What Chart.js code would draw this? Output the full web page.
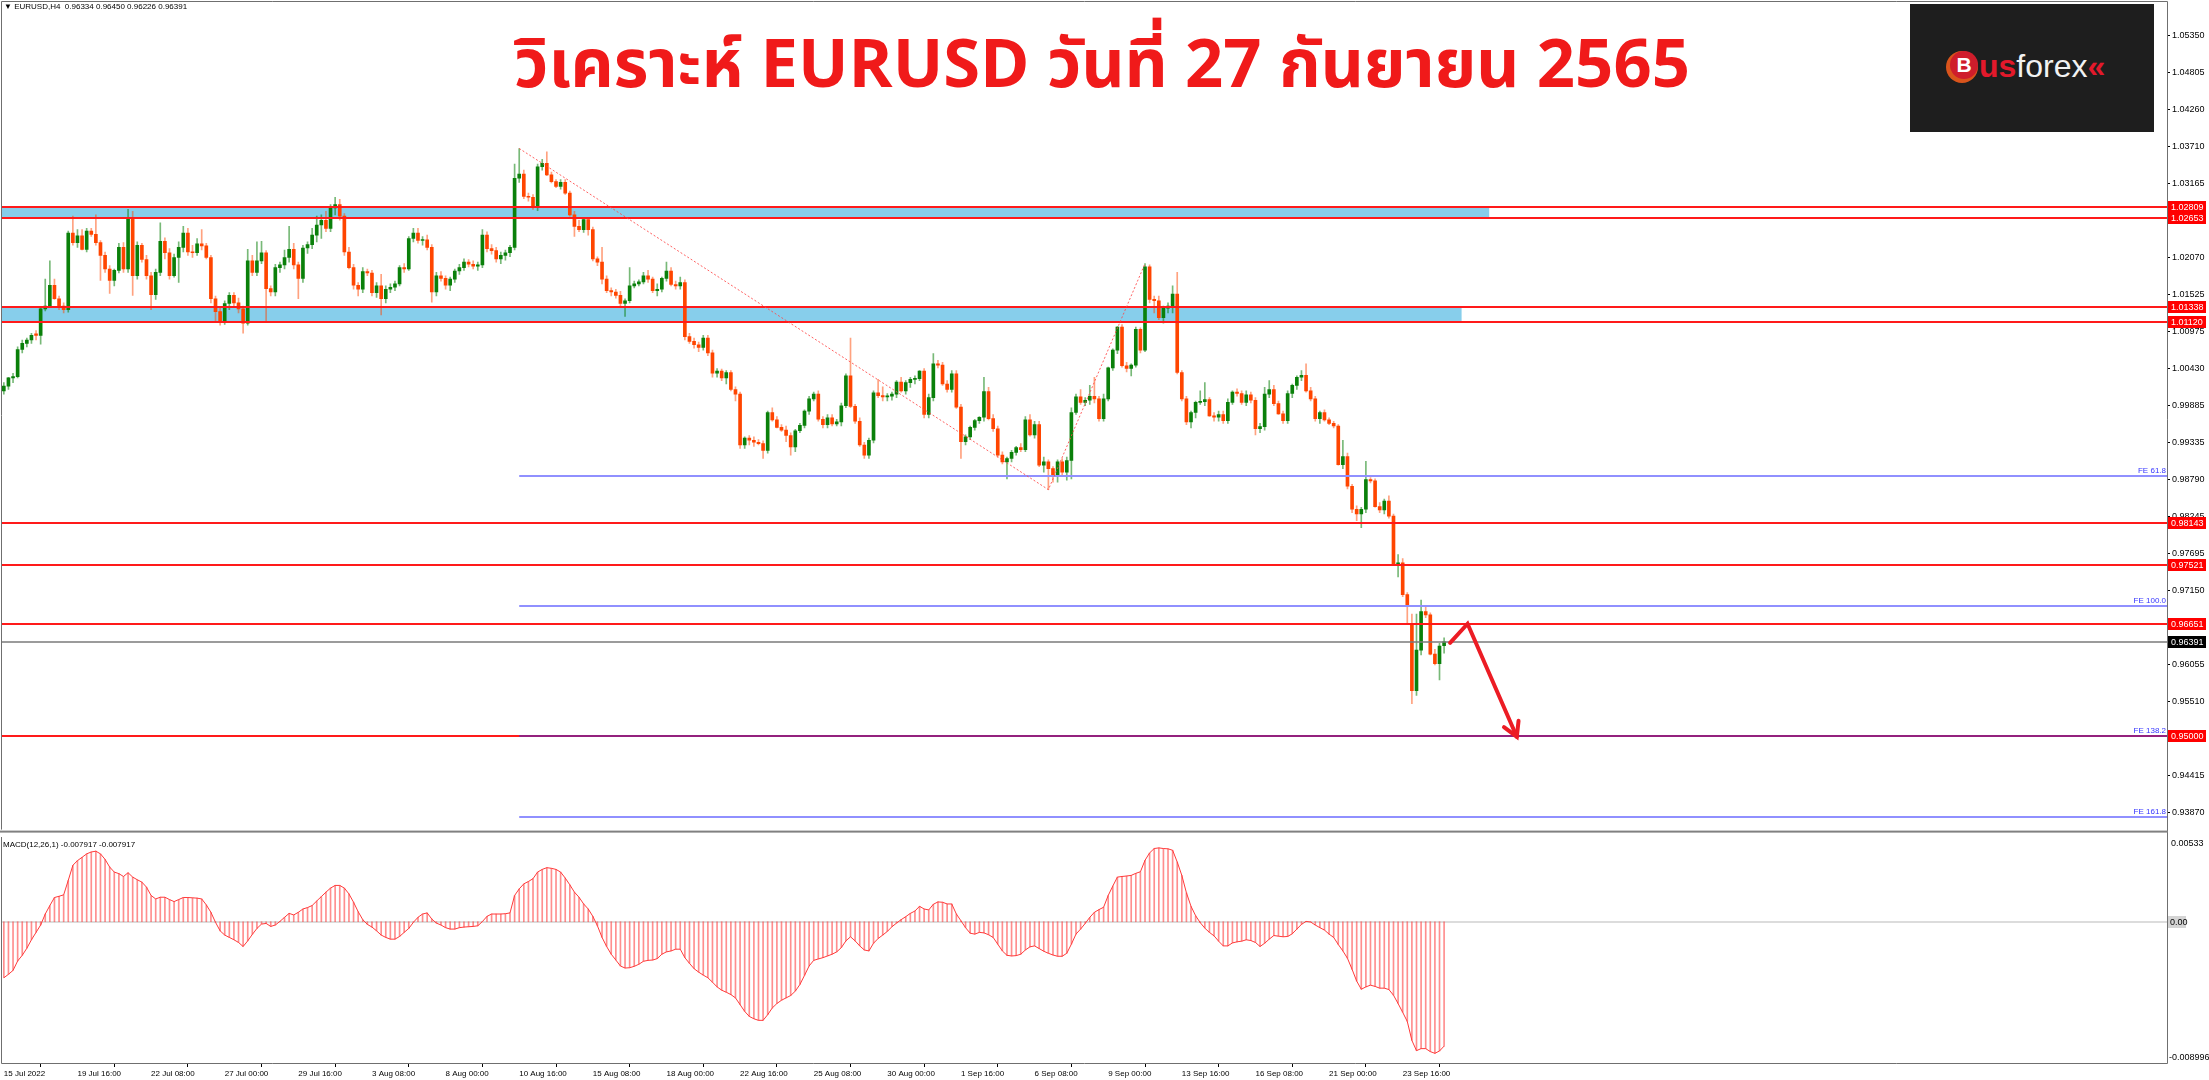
<!DOCTYPE html>
<html>
<head>
<meta charset="utf-8">
<title>EURUSD H4</title>
<script src="https://cdn.jsdelivr.net/npm/chart.js@4.4.1/dist/chart.umd.min.js"></script>
<style>
  html, body { margin: 0; padding: 0; background: #fff; }
  body { width: 2209px; height: 1080px; position: relative; overflow: hidden;
         font-family: 'Liberation Sans', 'DejaVu Sans', sans-serif; }
  canvas { position: absolute; left: 0; }
  #mainChart { top: 0; }
  #macdChart { top: 837px; }
  #header { position: absolute; left: 4px; top: 2px; font-size: 8px; line-height: 10px; color: #000; white-space: pre; }
  #macdLabel { position: absolute; left: 3px; top: 840px; font-size: 8px; line-height: 10px; color: #000; white-space: pre; }
  #title { position: absolute; left: 514px; top: 20px; font-weight: bold; color: #f01a1a; white-space: nowrap;
           font-size: 60px; line-height: 1.2; font-family: 'Noto Sans Thai', 'Tahoma', 'Liberation Sans', 'Noto Sans', sans-serif; }
  #titleBase { display: inline-block; width: 0; height: 0; vertical-align: baseline; }
  #logo { position: absolute; left: 1910px; top: 4px; width: 244px; height: 128px; background: #1e1e1e; }
  #coin { position: absolute; left: 40px; top: 47px; width: 28px; height: 28px; border-radius: 50%; background: #cf1d2b;
          box-shadow: -2px 2px 0 2px #d9541c; color: #fff; font: bold 21px/28px 'Liberation Sans', sans-serif; text-align: center; }
  #brand { position: absolute; left: 69px; top: 46px; font: bold 32px/32px 'Liberation Sans', sans-serif; white-space: nowrap; }
  #brand .r { color: #e3192b; }
  #brand .w { color: #f2f2f2; font-weight: normal; }
</style>
</head>
<body>
<canvas id="mainChart" width="2209" height="837"></canvas>
<canvas id="macdChart" width="2209" height="243"></canvas>
<div id="header">▼ EURUSD,H4  0.96334 0.96450 0.96226 0.96391</div>
<div id="macdLabel">MACD(12,26,1) -0.007917 -0.007917</div>
<div id="title">วิเคราะห์ EURUSD วันที่ 27 กันยายน 2565<span id="titleBase"></span></div>
<div id="logo"><div id="coin">B</div><div id="brand"><span class="r">us</span><span class="w">forex</span><span class="r">«</span></div></div>
<script>
// time axis labels, one every 16 bars (H4)
const dateLabels = ['15 Jul 2022','19 Jul 16:00','22 Jul 08:00','27 Jul 00:00','29 Jul 16:00','3 Aug 08:00',
  '8 Aug 00:00','10 Aug 16:00','15 Aug 08:00','18 Aug 00:00','22 Aug 16:00','25 Aug 08:00','30 Aug 00:00',
  '1 Sep 16:00','6 Sep 08:00','9 Sep 00:00','13 Sep 16:00','16 Sep 08:00','21 Sep 00:00','23 Sep 16:00'];

const opens = [
1.0010,1.0017,1.0029,1.0031,1.0071,1.0080,1.0085,1.0094,1.0092,1.0131,
1.0135,1.0166,1.0146,1.0135,1.0130,1.0243,1.0229,1.0239,1.0219,1.0246,
1.0241,1.0229,1.0210,1.0190,1.0173,1.0188,1.0222,1.0190,1.0265,1.0180,
1.0225,1.0204,1.0180,1.0152,1.0185,1.0231,1.0214,1.0180,1.0207,1.0222,
1.0243,1.0215,1.0214,1.0227,1.0224,1.0207,1.0146,1.0127,1.0112,1.0139,
1.0151,1.0140,1.0131,1.0110,1.0202,1.0185,1.0202,1.0214,1.0161,1.0156,
1.0192,1.0196,1.0207,1.0219,1.0196,1.0176,1.0221,1.0226,1.0240,1.0255,
1.0262,1.0250,1.0280,1.0285,1.0268,1.0215,1.0192,1.0166,1.0160,1.0186,
1.0184,1.0155,1.0165,1.0146,1.0160,1.0163,1.0168,1.0192,1.0190,1.0235,
1.0243,1.0232,1.0233,1.0222,1.0156,1.0180,1.0176,1.0166,1.0175,1.0187,
1.0192,1.0200,1.0197,1.0194,1.0196,1.0240,1.0220,1.0217,1.0205,1.0210,
1.0214,1.0222,1.0324,1.0330,1.0297,1.0296,1.0282,1.0341,1.0346,1.0329,
1.0319,1.0312,1.0318,1.0302,1.0270,1.0253,1.0248,1.0263,1.0248,1.0205,
1.0200,1.0175,1.0158,1.0156,1.0151,1.0139,1.0143,1.0165,1.0168,1.0171,
1.0180,1.0175,1.0158,1.0160,1.0176,1.0187,1.0167,1.0165,1.0170,1.0090,
1.0083,1.0078,1.0074,1.0088,1.0066,1.0036,1.0039,1.0029,1.0037,1.0012,
1.0005,0.9930,0.9940,0.9937,0.9934,0.9932,0.9922,0.9978,0.9967,0.9956,
0.9952,0.9944,0.9927,0.9951,0.9959,0.9980,0.9998,1.0005,0.9968,0.9960,
0.9970,0.9961,0.9964,0.9988,1.0032,0.9987,0.9965,0.9930,0.9915,0.9937,
1.0007,1.0003,1.0001,1.0002,1.0005,1.0023,1.0010,1.0022,1.0027,1.0028,
1.0039,0.9975,1.0000,1.0050,1.0048,1.0020,1.0012,1.0035,0.9986,0.9935,
0.9942,0.9956,0.9966,0.9971,1.0009,0.9969,0.9954,0.9915,0.9905,0.9910,
0.9919,0.9926,0.9923,0.9967,0.9945,0.9960,0.9900,0.9905,0.9895,0.9885,
0.9905,0.9890,0.9907,0.9978,1.0001,0.9993,0.9996,1.0002,0.9998,0.9969,
0.9998,1.0044,1.0070,1.0104,1.0047,1.0043,1.0048,1.0101,1.0070,1.0193,
1.0145,1.0143,1.0118,1.0132,1.0135,1.0153,1.0037,0.9998,0.9964,0.9978,
0.9993,0.9994,0.9997,0.9973,0.9971,0.9975,0.9966,0.9993,1.0008,1.0006,
0.9993,1.0004,0.9996,0.9954,0.9957,1.0005,1.0012,0.9991,0.9976,0.9966,
1.0006,1.0018,1.0030,1.0033,1.0010,0.9998,0.9969,0.9978,0.9967,0.9962,
0.9958,0.9901,0.9913,0.9869,0.9835,0.9828,0.9835,0.9879,0.9877,0.9839,
0.9834,0.9847,0.9825,0.9754,0.9756,0.9709,0.9666,0.9567,0.9627,0.9684,
0.9679,0.9621,0.9607,0.96334];

const highs = [
1.0022,1.0030,1.0036,1.0075,1.0085,1.0088,1.0095,1.0099,1.0134,1.0175,
1.0202,1.0175,1.0150,1.0140,1.0246,1.0268,1.0248,1.0248,1.0250,1.0250,
1.0270,1.0232,1.0215,1.0195,1.0190,1.0228,1.0229,1.0278,1.0275,1.0230,
1.0228,1.0210,1.0185,1.0190,1.0258,1.0236,1.0220,1.0212,1.0230,1.0253,
1.0250,1.0225,1.0235,1.0248,1.0228,1.0210,1.0150,1.0132,1.0143,1.0155,
1.0155,1.0147,1.0135,1.0219,1.0210,1.0230,1.0231,1.0217,1.0165,1.0197,
1.0200,1.0218,1.0253,1.0228,1.0200,1.0225,1.0230,1.0250,1.0268,1.0270,
1.0275,1.0285,1.0296,1.0293,1.0272,1.0222,1.0197,1.0170,1.0192,1.0190,
1.0188,1.0170,1.0182,1.0165,1.0168,1.0172,1.0195,1.0198,1.0238,1.0250,
1.0250,1.0238,1.0240,1.0226,1.0185,1.0186,1.0180,1.0178,1.0190,1.0197,
1.0205,1.0204,1.0202,1.0200,1.0248,1.0245,1.0226,1.0222,1.0215,1.0218,
1.0225,1.0345,1.0368,1.0336,1.0302,1.0300,1.0345,1.0352,1.0363,1.0333,
1.0322,1.0322,1.0322,1.0305,1.0275,1.0262,1.0266,1.0266,1.0252,1.0208,
1.0222,1.0180,1.0162,1.0160,1.0157,1.0146,1.0192,1.0172,1.0174,1.0185,
1.0188,1.0178,1.0168,1.0178,1.0200,1.0192,1.0172,1.0178,1.0174,1.0095,
1.0088,1.0082,1.0092,1.0092,1.0070,1.0043,1.0042,1.0040,1.0040,1.0016,
1.0008,0.9942,0.9944,0.9942,0.9938,0.9936,0.9980,0.9985,0.9972,0.9960,
0.9958,0.9948,0.9953,0.9962,0.9982,1.0002,1.0008,1.0010,0.9972,0.9975,
0.9975,0.9968,0.9992,1.0035,1.0088,0.9990,0.9970,0.9934,0.9940,1.0010,
1.0027,1.0016,1.0006,1.0008,1.0025,1.0030,1.0025,1.0030,1.0032,1.0040,
1.0043,1.0005,1.0065,1.0055,1.0052,1.0025,1.0040,1.0040,0.9990,0.9945,
0.9958,0.9968,0.9972,1.0030,1.0015,0.9975,0.9958,0.9920,0.9912,0.9922,
0.9928,0.9932,0.9972,0.9975,0.9965,0.9965,0.9912,0.9908,0.9898,0.9908,
0.9910,0.9912,0.9985,1.0005,1.0012,1.0000,1.0018,1.0030,1.0002,1.0005,
1.0045,1.0072,1.0105,1.0108,1.0052,1.0050,1.0104,1.0103,1.0198,1.0196,
1.0150,1.0150,1.0135,1.0140,1.0165,1.0185,1.0040,1.0002,0.9980,0.9995,
1.0010,1.0022,1.0000,0.9978,0.9980,0.9980,0.9998,1.0010,1.0013,1.0010,
1.0010,1.0008,1.0000,0.9962,1.0015,1.0025,1.0018,0.9995,0.9980,1.0010,
1.0020,1.0032,1.0040,1.0050,1.0015,1.0002,0.9980,0.9982,0.9970,0.9965,
0.9960,0.9937,0.9918,0.9872,0.9840,0.9838,0.9906,0.9882,0.9880,0.9845,
0.9850,0.9855,0.9828,0.9768,0.9762,0.9712,0.9680,0.9680,0.9701,0.9690,
0.9682,0.9628,0.9637,0.96450];

const lows = [
1.0005,1.0012,1.0022,1.0029,1.0066,1.0075,1.0080,1.0085,1.0079,1.0128,
1.0133,1.0145,1.0130,1.0125,1.0126,1.0225,1.0222,1.0218,1.0215,1.0238,
1.0225,1.0173,1.0185,1.0154,1.0165,1.0184,1.0185,1.0185,1.0151,1.0175,
1.0200,1.0175,1.0130,1.0145,1.0180,1.0205,1.0175,1.0178,1.0170,1.0215,
1.0210,1.0207,1.0210,1.0218,1.0205,1.0140,1.0112,1.0107,1.0108,1.0130,
1.0135,1.0125,1.0095,1.0107,1.0180,1.0180,1.0198,1.0112,1.0150,1.0150,
1.0185,1.0190,1.0200,1.0190,1.0146,1.0170,1.0213,1.0220,1.0230,1.0235,
1.0245,1.0245,1.0270,1.0262,1.0210,1.0190,1.0160,1.0150,1.0155,1.0180,
1.0150,1.0148,1.0122,1.0140,1.0155,1.0158,1.0165,1.0185,1.0188,1.0230,
1.0228,1.0225,1.0218,1.0141,1.0150,1.0172,1.0160,1.0158,1.0170,1.0182,
1.0188,1.0193,1.0190,1.0188,1.0192,1.0215,1.0212,1.0200,1.0198,1.0203,
1.0208,1.0218,1.0318,1.0294,1.0290,1.0278,1.0276,1.0336,1.0328,1.0317,
1.0310,1.0308,1.0300,1.0268,1.0238,1.0245,1.0244,1.0240,1.0202,1.0195,
1.0168,1.0155,1.0150,1.0147,1.0135,1.0120,1.0140,1.0162,1.0165,1.0168,
1.0170,1.0155,1.0150,1.0156,1.0172,1.0165,1.0160,1.0160,1.0085,1.0080,
1.0073,1.0068,1.0070,1.0062,1.0030,1.0030,1.0025,1.0020,1.0010,0.9995,
0.9925,0.9925,0.9930,0.9928,0.9930,0.9910,0.9918,0.9965,0.9955,0.9950,
0.9935,0.9915,0.9920,0.9948,0.9955,0.9975,0.9995,0.9965,0.9955,0.9955,
0.9958,0.9958,0.9958,0.9985,0.9985,0.9962,0.9928,0.9910,0.9910,0.9933,
1.0000,0.9995,0.9995,0.9996,1.0000,1.0008,1.0005,1.0015,1.0020,1.0025,
0.9970,0.9970,0.9995,1.0044,1.0018,1.0008,1.0008,0.9984,0.9910,0.9930,
0.9938,0.9952,0.9962,0.9965,0.9967,0.9950,0.9912,0.9902,0.9880,0.9905,
0.9915,0.9920,0.9920,0.9943,0.9940,0.9898,0.9890,0.9864,0.9875,0.9875,
0.9885,0.9878,0.9880,0.9975,0.9990,0.9988,0.9990,0.9992,0.9965,0.9965,
0.9995,1.0040,1.0065,1.0045,1.0038,1.0032,1.0045,1.0066,1.0068,1.0140,
1.0125,1.0115,1.0110,1.0125,1.0125,1.0035,0.9995,0.9960,0.9955,0.9970,
0.9990,0.9988,0.9972,0.9965,0.9965,0.9962,0.9962,0.9990,1.0002,0.9990,
0.9988,0.9992,0.9945,0.9948,0.9952,1.0000,0.9988,0.9975,0.9962,0.9962,
1.0000,1.0012,1.0025,1.0008,0.9995,0.9965,0.9962,0.9965,0.9960,0.9955,
0.9900,0.9895,0.9865,0.9830,0.9818,0.9808,0.9830,0.9874,0.9838,0.9830,
0.9828,0.9822,0.9752,0.9735,0.9706,0.9665,0.9548,0.9560,0.9620,0.9675,
0.9620,0.9605,0.9583,0.96226];

const closes = [
1.0017,1.0029,1.0031,1.0071,1.0080,1.0085,1.0092,1.0092,1.0131,1.0135,
1.0166,1.0146,1.0135,1.0130,1.0243,1.0229,1.0239,1.0219,1.0246,1.0241,
1.0229,1.0210,1.0190,1.0173,1.0188,1.0222,1.0190,1.0265,1.0180,1.0225,
1.0204,1.0180,1.0152,1.0185,1.0231,1.0214,1.0180,1.0207,1.0222,1.0243,
1.0215,1.0214,1.0227,1.0224,1.0207,1.0146,1.0127,1.0112,1.0139,1.0151,
1.0140,1.0131,1.0110,1.0202,1.0185,1.0202,1.0214,1.0161,1.0156,1.0192,
1.0196,1.0207,1.0219,1.0196,1.0176,1.0221,1.0226,1.0240,1.0255,1.0262,
1.0250,1.0280,1.0285,1.0268,1.0215,1.0192,1.0166,1.0160,1.0186,1.0184,
1.0155,1.0165,1.0146,1.0160,1.0163,1.0168,1.0192,1.0190,1.0235,1.0243,
1.0232,1.0233,1.0222,1.0156,1.0180,1.0176,1.0166,1.0175,1.0187,1.0192,
1.0200,1.0197,1.0194,1.0196,1.0240,1.0220,1.0217,1.0205,1.0210,1.0214,
1.0222,1.0324,1.0330,1.0297,1.0296,1.0282,1.0341,1.0346,1.0329,1.0319,
1.0312,1.0318,1.0302,1.0270,1.0253,1.0248,1.0263,1.0248,1.0205,1.0200,
1.0175,1.0158,1.0156,1.0151,1.0139,1.0143,1.0165,1.0168,1.0171,1.0180,
1.0175,1.0158,1.0160,1.0176,1.0187,1.0167,1.0165,1.0170,1.0090,1.0083,
1.0078,1.0074,1.0088,1.0066,1.0036,1.0039,1.0029,1.0037,1.0012,1.0005,
0.9930,0.9940,0.9937,0.9934,0.9932,0.9922,0.9978,0.9967,0.9956,0.9952,
0.9944,0.9927,0.9951,0.9959,0.9980,0.9998,1.0005,0.9968,0.9960,0.9970,
0.9961,0.9964,0.9988,1.0032,0.9987,0.9965,0.9930,0.9915,0.9937,1.0007,
1.0003,1.0001,1.0002,1.0005,1.0023,1.0010,1.0022,1.0027,1.0028,1.0039,
0.9975,1.0000,1.0050,1.0048,1.0020,1.0012,1.0035,0.9986,0.9935,0.9942,
0.9956,0.9966,0.9971,1.0009,0.9969,0.9954,0.9915,0.9905,0.9910,0.9919,
0.9926,0.9923,0.9967,0.9945,0.9960,0.9900,0.9905,0.9895,0.9885,0.9905,
0.9890,0.9907,0.9978,1.0001,0.9993,0.9996,1.0002,0.9998,0.9969,0.9998,
1.0044,1.0070,1.0104,1.0047,1.0043,1.0048,1.0101,1.0070,1.0193,1.0145,
1.0143,1.0118,1.0132,1.0135,1.0153,1.0037,0.9998,0.9964,0.9978,0.9993,
0.9994,0.9997,0.9973,0.9971,0.9975,0.9966,0.9993,1.0008,1.0006,0.9993,
1.0004,0.9996,0.9954,0.9957,1.0005,1.0012,0.9991,0.9976,0.9966,1.0006,
1.0018,1.0030,1.0033,1.0010,0.9998,0.9969,0.9978,0.9967,0.9962,0.9958,
0.9901,0.9913,0.9869,0.9835,0.9828,0.9835,0.9879,0.9877,0.9839,0.9834,
0.9847,0.9825,0.9754,0.9756,0.9709,0.9691,0.9567,0.9627,0.9684,0.9679,
0.9621,0.9607,0.9633,0.96391];

// MACD(12,26,1) histogram, one value per bar
const macd = [
-0.00357,-0.00335,-0.00310,-0.00250,-0.00214,-0.00169,-0.00115,-0.00068,-0.00021,0.00049,
0.00103,0.00154,0.00162,0.00171,0.00263,0.00359,0.00389,0.00410,0.00432,0.00444,
0.00449,0.00432,0.00397,0.00348,0.00316,0.00306,0.00288,0.00312,0.00284,0.00267,
0.00252,0.00220,0.00167,0.00145,0.00156,0.00156,0.00141,0.00128,0.00141,0.00154,
0.00154,0.00152,0.00150,0.00145,0.00107,0.00060,-0.00004,-0.00058,-0.00085,-0.00100,
-0.00115,-0.00132,-0.00158,-0.00122,-0.00081,-0.00043,-0.00015,-0.00011,-0.00030,-0.00021,
0.00002,0.00028,0.00053,0.00043,0.00060,0.00081,0.00090,0.00103,0.00132,0.00160,
0.00188,0.00214,0.00231,0.00231,0.00214,0.00177,0.00124,0.00064,0.00013,-0.00017,
-0.00034,-0.00058,-0.00085,-0.00100,-0.00111,-0.00111,-0.00094,-0.00068,-0.00043,-0.00004,
0.00028,0.00049,0.00056,0.00017,-0.00009,-0.00021,-0.00038,-0.00047,-0.00047,-0.00038,
-0.00034,-0.00032,-0.00030,-0.00026,0.00001,0.00034,0.00049,0.00049,0.00049,0.00051,
0.00056,0.00167,0.00209,0.00241,0.00256,0.00274,0.00316,0.00333,0.00344,0.00340,
0.00333,0.00316,0.00278,0.00235,0.00188,0.00156,0.00113,0.00081,0.00034,-0.00026,
-0.00100,-0.00158,-0.00207,-0.00244,-0.00282,-0.00295,-0.00293,-0.00284,-0.00271,-0.00252,
-0.00246,-0.00244,-0.00235,-0.00207,-0.00192,-0.00186,-0.00175,-0.00175,-0.00229,-0.00265,
-0.00299,-0.00321,-0.00340,-0.00357,-0.00385,-0.00415,-0.00436,-0.00449,-0.00464,-0.00485,
-0.00528,-0.00571,-0.00603,-0.00618,-0.00628,-0.00628,-0.00592,-0.00549,-0.00521,-0.00500,
-0.00485,-0.00470,-0.00442,-0.00400,-0.00342,-0.00282,-0.00246,-0.00237,-0.00229,-0.00218,
-0.00207,-0.00192,-0.00165,-0.00122,-0.00096,-0.00122,-0.00154,-0.00180,-0.00186,-0.00137,
-0.00107,-0.00085,-0.00062,-0.00032,-0.00009,0.00013,0.00032,0.00053,0.00068,0.00098,
0.00081,0.00075,0.00111,0.00126,0.00124,0.00113,0.00113,0.00049,0.00006,-0.00038,
-0.00073,-0.00079,-0.00068,-0.00071,-0.00083,-0.00100,-0.00143,-0.00186,-0.00214,-0.00218,
-0.00216,-0.00207,-0.00180,-0.00160,-0.00154,-0.00171,-0.00188,-0.00201,-0.00212,-0.00220,
-0.00220,-0.00201,-0.00143,-0.00079,-0.00047,-0.00011,0.00028,0.00060,0.00077,0.00092,
0.00167,0.00227,0.00284,0.00288,0.00291,0.00295,0.00308,0.00318,0.00391,0.00438,
0.00466,0.00470,0.00466,0.00464,0.00455,0.00380,0.00295,0.00184,0.00098,0.00038,
-0.00006,-0.00041,-0.00068,-0.00090,-0.00124,-0.00154,-0.00154,-0.00135,-0.00128,-0.00124,
-0.00115,-0.00120,-0.00132,-0.00158,-0.00137,-0.00111,-0.00088,-0.00092,-0.00096,-0.00094,
-0.00077,-0.00047,-0.00017,0.00002,-0.00002,-0.00021,-0.00038,-0.00053,-0.00079,-0.00100,
-0.00145,-0.00186,-0.00233,-0.00303,-0.00378,-0.00430,-0.00415,-0.00404,-0.00412,-0.00423,
-0.00423,-0.00432,-0.00468,-0.00521,-0.00577,-0.00635,-0.00756,-0.00821,-0.00808,-0.00808,
-0.00827,-0.00838,-0.00823,-0.00792];

// price scale labels shown on the right axis
const priceTicks = [1.05350,1.04805,1.04260,1.03710,1.03165,1.02070,1.01525,1.00975,1.00430,0.99885,
  0.99335,0.98790,0.98245,0.97695,0.97150,0.96055,0.95510,0.94415,0.93870];

// drawn objects
const redLevels = [1.02809,1.02653,1.01338,1.01120,0.98143,0.97521,0.96651,0.95000];
const bidLevel = 0.96391;
const feLevels = [0.98845,0.96922,0.94998,0.93811];
const feNames = ['FE 61.8','FE 100.0','FE 138.2','FE 161.8'];
const feStartBar = 112;
const zoneTop = [1.02809,1.01338];
const zoneBottom = [1.02653,1.01120];
const zoneEndBar = [322.8,316.8];
const swingBars = [112,227,248];
const swingPrices = [1.0368,0.9864,1.0198];
const arrowBars = [314.3,318.1,328.8];
const arrowPrices = [0.96377,0.96659,0.94990];
const macdRange = [-0.008996,0.00533];

const FONT = "'Liberation Sans', 'DejaVu Sans', sans-serif";
Chart.defaults.font.family = FONT;
Chart.defaults.color = '#000';

const bars = closes.map((c, i) => i);
const isUp = i => closes[i] >= opens[i];
const xMin = -0.4, xMax = 470.1;

const mainOverlay = {
  id: 'mainOverlay',
  beforeDatasetsDraw(chart) {
    const {ctx, chartArea: a, scales: {x, y}} = chart;
    ctx.save();
    ctx.fillStyle = '#87ceeb';
    zoneTop.forEach((t, k) => {
      const y1 = y.getPixelForValue(t), y2 = y.getPixelForValue(zoneBottom[k]);
      ctx.fillRect(a.left, y1, x.getPixelForValue(zoneEndBar[k]) - a.left, y2 - y1);
    });
    ctx.restore();
  },
  afterDatasetsDraw(chart) {
    const {ctx, chartArea: a, scales: {x, y}} = chart;
    ctx.save();
    const hline = (v, x0, color, w) => {
      const py = Math.round(y.getPixelForValue(v));
      ctx.strokeStyle = color; ctx.lineWidth = w;
      ctx.beginPath(); ctx.moveTo(x0, py); ctx.lineTo(a.right, py); ctx.stroke();
    };
    redLevels.forEach(v => hline(v, a.left, '#ff1a1a', 2));
    hline(bidLevel, a.left, '#7a7a7a', 1.5);
    const feX = x.getPixelForValue(feStartBar);
    feLevels.forEach((v, k) => hline(v, feX, k === 2 ? 'rgba(60,40,210,0.55)' : '#9090ff', 2));

    ctx.font = '8px ' + FONT;
    ctx.fillStyle = '#3535ff'; ctx.textAlign = 'right'; ctx.textBaseline = 'bottom';
    feLevels.forEach((v, k) => ctx.fillText(feNames[k], a.right - 1, y.getPixelForValue(v) - 1));

    // swing points used for the expansion
    ctx.setLineDash([2, 2]); ctx.strokeStyle = 'rgba(255,70,70,0.85)'; ctx.lineWidth = 1;
    ctx.beginPath();
    swingBars.forEach((b, k) => {
      const px = x.getPixelForValue(b), py = y.getPixelForValue(swingPrices[k]);
      if (k) ctx.lineTo(px, py); else ctx.moveTo(px, py);
    });
    ctx.stroke(); ctx.setLineDash([]);

    // hand drawn arrow
    const pts = arrowBars.map((b, k) => [x.getPixelForValue(b), y.getPixelForValue(arrowPrices[k])]);
    ctx.strokeStyle = '#ec1c24'; ctx.lineWidth = 4; ctx.lineJoin = 'miter'; ctx.lineCap = 'round';
    ctx.beginPath(); pts.forEach((p, k) => k ? ctx.lineTo(p[0], p[1]) : ctx.moveTo(p[0], p[1])); ctx.stroke();
    const p1 = pts[1], p2 = pts[2], ang = Math.atan2(p2[1] - p1[1], p2[0] - p1[0]);
    ctx.beginPath();
    ctx.moveTo(p2[0] - 16 * Math.cos(ang - 0.52), p2[1] - 16 * Math.sin(ang - 0.52));
    ctx.lineTo(p2[0], p2[1]);
    ctx.lineTo(p2[0] - 16 * Math.cos(ang + 0.52), p2[1] - 16 * Math.sin(ang + 0.52));
    ctx.stroke();
    ctx.restore();
  },
  afterDraw(chart) {
    const {ctx, chartArea: a, scales: {y}} = chart;
    ctx.save();
    ctx.strokeStyle = '#6f6f6f'; ctx.lineWidth = 1;
    ctx.beginPath();
    ctx.moveTo(1.5, a.bottom); ctx.lineTo(1.5, 1.5); ctx.lineTo(a.right + 0.5, 1.5); ctx.lineTo(a.right + 0.5, chart.height);
    ctx.stroke();
    ctx.fillStyle = '#808080'; ctx.fillRect(0, a.bottom + 1, a.right + 1, 2);
    // price tags on the axis
    ctx.font = '9px ' + FONT; ctx.textAlign = 'left'; ctx.textBaseline = 'middle';
    const tag = (v, bg) => {
      const py = Math.round(y.getPixelForValue(v));
      ctx.fillStyle = bg; ctx.fillRect(a.right + 1, py - 6, 38, 12);
      ctx.fillStyle = '#fff'; ctx.fillText(v.toFixed(5), a.right + 4, py + 0.5);
    };
    redLevels.forEach(v => tag(v, '#ff0000'));
    tag(bidLevel, '#000000');
    ctx.restore();
  }
};

new Chart(document.getElementById('mainChart'), {
  type: 'bar',
  data: {
    datasets: [
      { data: bars.map(i => ({x: i, y: [opens[i], closes[i]]})),
        backgroundColor: bars.map(i => isUp(i) ? '#0a800a' : '#ff4500'),
        barThickness: 3, minBarLength: 1, grouped: false, order: 0 },
      { data: bars.map(i => ({x: i, y: [lows[i], highs[i]]})),
        backgroundColor: bars.map(i => isUp(i) ? 'rgba(10,128,10,0.55)' : 'rgba(255,69,0,0.5)'),
        barThickness: 1, grouped: false, order: 1 }
    ]
  },
  options: {
    responsive: false, animation: false, events: [],
    layout: { padding: { left: 2, top: 2, right: 0, bottom: 3 } },
    plugins: { legend: { display: false }, tooltip: { enabled: false } },
    scales: {
      x: { type: 'linear', min: xMin, max: xMax, offset: false, display: false },
      y: { position: 'right', min: 0.93618, max: 1.05764,
           afterFit: s => { s.width = 42; },
           afterBuildTicks: s => { s.ticks = priceTicks.map(v => ({value: v})); },
           ticks: { callback: v => v.toFixed(5), font: { size: 9 }, padding: 2 },
           grid: { drawOnChartArea: false, tickLength: 3, color: '#000' },
           border: { display: false } }
    }
  },
  plugins: [mainOverlay]
});

const macdOverlay = {
  id: 'macdOverlay',
  beforeDatasetsDraw(chart) {
    const {ctx, chartArea: a, scales: {y}} = chart;
    ctx.save();
    ctx.strokeStyle = '#dcdcdc'; ctx.lineWidth = 2;
    const zy = Math.round(y.getPixelForValue(0));
    ctx.beginPath(); ctx.moveTo(a.left, zy); ctx.lineTo(a.right, zy); ctx.stroke();
    ctx.restore();
  },
  afterDraw(chart) {
    const {ctx, chartArea: a, scales: {y}} = chart;
    ctx.save();
    ctx.strokeStyle = '#6f6f6f'; ctx.lineWidth = 1;
    ctx.beginPath();
    ctx.moveTo(1.5, 0); ctx.lineTo(1.5, a.bottom + 0.5); ctx.lineTo(a.right + 0.5, a.bottom + 0.5); ctx.lineTo(a.right + 0.5, 0);
    ctx.stroke();
    ctx.font = '9px ' + FONT; ctx.textAlign = 'left'; ctx.textBaseline = 'middle';
    ctx.fillStyle = '#000';
    ctx.fillText(macdRange[1].toFixed(5), a.right + 4, y.getPixelForValue(macdRange[1]) + 6);
    ctx.fillText(macdRange[0].toFixed(6), a.right + 2, y.getPixelForValue(macdRange[0]) - 5);
    const zy = Math.round(y.getPixelForValue(0));
    ctx.fillStyle = '#d4d4d4'; ctx.fillRect(a.right + 1, zy - 6, 18, 12);
    ctx.fillStyle = '#000'; ctx.fillText('0.00', a.right + 3, zy + 0.5);
    ctx.restore();
  }
};

const macdPts = bars.map(i => ({x: i, y: macd[i]}));
new Chart(document.getElementById('macdChart'), {
  type: 'bar',
  data: {
    datasets: [
      { type: 'line', data: macdPts, borderColor: '#ff3a3a', borderWidth: 1, pointRadius: 0, tension: 0, order: 0 },
      { type: 'bar', data: macdPts, backgroundColor: 'rgba(255,50,50,0.55)', barThickness: 1, grouped: false, order: 1 }
    ]
  },
  options: {
    responsive: false, animation: false, events: [],
    layout: { padding: { left: 2, top: 1, right: 0, bottom: 0 } },
    plugins: { legend: { display: false }, tooltip: { enabled: false } },
    scales: {
      x: { type: 'linear', min: xMin, max: xMax, offset: false, position: 'bottom',
           afterBuildTicks: s => { s.ticks = dateLabels.map((d, k) => ({value: k * 16})); },
           afterFit: s => { s.height = 17; },
           ticks: { autoSkip: false, maxRotation: 0, align: 'start', padding: 2, font: { size: 8 },
                    callback: (v, k) => dateLabels[k] },
           grid: { drawOnChartArea: false, tickLength: 4, color: '#000' },
           border: { display: false } },
      y: { position: 'right', min: macdRange[0], max: macdRange[1],
           afterFit: s => { s.width = 42; },
           ticks: { display: false }, grid: { display: false }, border: { display: false } }
    }
  },
  plugins: [macdOverlay]
});

// fit the headline to the width it has in the picture
(function placeTitle() {
  const t = document.getElementById('title');
  const base = document.getElementById('titleBase');
  const w = t.getBoundingClientRect().width;
  const fs = 60 * 1176 / w;
  t.style.fontSize = fs + 'px';
  const r = t.getBoundingClientRect();
  t.style.left = (1102 - r.width / 2) + 'px';
  const by = base.getBoundingClientRect().top;
  t.style.top = (r.top + 87 - by) + 'px';
})();
</script>
</body>
</html>
